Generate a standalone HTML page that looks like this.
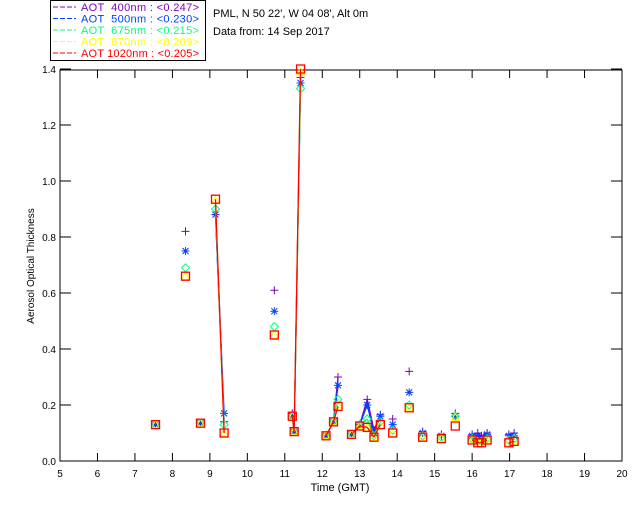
<!DOCTYPE html>
<html><head><meta charset="utf-8"><style>
body{margin:0;background:#fff;}
svg{display:block;font-family:"Liberation Sans",sans-serif;}
#legendItems text{white-space:pre;}
</style></head><body>
<svg id="chart" width="640" height="512" viewBox="0 0 640 512">
<rect x="0" y="0" width="640" height="512" fill="#fff"/>
<g>
<rect x="50.5" y="0.5" width="155" height="60" fill="none" stroke="#000"/>
<g id="legendItems" font-size="11"></g>
</g>
<text x="213" y="17" font-size="11">PML, N 50 22', W 04 08', Alt 0m</text>
<text x="213" y="35" font-size="11">Data from: 14 Sep 2017</text>
<g id="axes"></g>
<g id="series"></g>
<text x="340" y="491" font-size="11" text-anchor="middle">Time (GMT)</text>
<text x="0" y="0" font-size="10" text-anchor="middle" transform="translate(34,266) rotate(-90)">Aerosol Optical Thickness</text>
</svg>
<script>
const times=[7.55,8.35,8.75,9.15,9.38,10.72,11.2,11.25,11.42,12.1,12.3,12.42,12.78,13.0,13.2,13.38,13.55,13.88,14.32,14.68,15.18,15.55,16.0,16.15,16.25,16.4,16.98,17.12];
const aot400=[0.13,0.82,0.135,0.88,0.14,0.61,0.17,0.105,1.37,0.09,0.14,0.30,0.095,0.13,0.22,0.11,0.165,0.15,0.32,0.105,0.095,0.17,0.095,0.10,0.09,0.10,0.095,0.10];
const aot500=[0.13,0.75,0.135,0.88,0.17,0.535,0.16,0.105,1.35,0.09,0.14,0.27,0.095,0.13,0.20,0.10,0.16,0.13,0.245,0.10,0.09,0.16,0.09,0.09,0.085,0.095,0.09,0.09];
const aot675=[0.13,0.69,0.135,0.90,0.13,0.48,0.16,0.105,1.33,0.09,0.14,0.22,0.095,0.13,0.15,0.09,0.14,0.11,0.20,0.09,0.085,0.16,0.08,0.07,0.07,0.08,0.075,0.08];
const aot870=[0.13,0.66,0.135,0.93,0.10,0.45,0.16,0.105,1.39,0.09,0.14,0.20,0.095,0.125,0.12,0.085,0.13,0.10,0.19,0.085,0.08,0.155,0.075,0.065,0.065,0.075,0.065,0.07];
const aot1020=[0.13,0.66,0.135,0.935,0.10,0.45,0.16,0.105,1.40,0.09,0.14,0.195,0.095,0.125,0.12,0.085,0.13,0.10,0.19,0.085,0.08,0.125,0.075,0.065,0.065,0.075,0.065,0.07];
const legendLabels=["AOT  400nm : <0.247>","AOT  500nm : <0.230>","AOT  675nm : <0.215>","AOT  870nm : <0.209>","AOT 1020nm : <0.205>"];
const xTicks=[5,6,7,8,9,10,11,12,13,14,15,16,17,18,19,20];
const yTicks=[0,0.2,0.4,0.6,0.8,1.0,1.2,1.4];

const NS="http://www.w3.org/2000/svg";
const L=60,R=622,T=70,B=461;
const xs=v=>L+(v-5)/15*(R-L);
const ys=v=>B-v/1.4*(B-T+1);
function mk(tag,attrs,parent){const e=document.createElementNS(NS,tag);for(const k in attrs)e.setAttribute(k,attrs[k]);parent.appendChild(e);return e;}
const axes=document.getElementById('axes');
const frame=mk('rect',{x:L,y:T,width:R-L,height:B-T,fill:'none',stroke:'#000','stroke-width':1},axes);


xTicks.forEach(t=>{
 const x=xs(t);
 if(t>5&&t<20){
  const a=mk('line',{x1:x,x2:x,y1:B,y2:B-8,stroke:'#000'},axes);
  
  
  const b=mk('line',{x1:x,x2:x,y1:T,y2:T+8,stroke:'#000'},axes);
  
  
 }
 const tx=mk('text',{x:x,y:B+16,'font-size':10,'text-anchor':'middle'},axes);
 tx.textContent=String(t);
 
 
});
yTicks.forEach(t=>{
 const y=ys(t);
 const a=mk('line',{x1:L,x2:L+11,y1:y,y2:y,stroke:'#000'},axes);
 
 
 const b=mk('line',{x1:R,x2:R-11,y1:y,y2:y,stroke:'#000'},axes);
 
 
 const tx=mk('text',{x:L-4,y:y+4,'font-size':10,'text-anchor':'end'},axes);
 tx.textContent=t.toFixed(1);
 
 
});
const colors=['#7f00bf','#0040ff','#00ff80','#ffff00','#ff0000'];
const series=[aot400,aot500,aot675,aot870,aot1020];
const names=['aot-400','aot-500','aot-675','aot-870','aot-1020'];
const lg=document.getElementById('legendItems');
legendLabels.forEach((s,i)=>{
 const y=11+i*11.5;
 const ln=mk('line',{x1:53,x2:76,y1:y-4,y2:y-4,stroke:colors[i],'stroke-dasharray':'5,2'},lg);
 
 
 const tx=mk('text',{x:81,y:y,fill:colors[i],textLength:118,lengthAdjust:'spacing'},lg);
 tx.textContent=s;
 
 
});
const sg=document.getElementById('series');
series.forEach((vals,si)=>{
 const g=mk('g',{},sg);
 
 
 const c=colors[si];
 for(let i=1;i<times.length;i++){
  if(times[i]-times[i-1]<=0.3){
   const l=mk('line',{x1:xs(times[i-1]),y1:ys(vals[i-1]),x2:xs(times[i]),y2:ys(vals[i]),stroke:c,'stroke-width':1.3},g);
   
   
  }
 }
 times.forEach((t,i)=>{
  const x=xs(t),y=ys(vals[i]);let m;
  if(si===0) m=mk('path',{d:`M${x-4},${y}H${x+4}M${x},${y-4}V${y+4}`,stroke:c,fill:'none'},g);
  else if(si===1) m=mk('path',{d:`M${x-4},${y}H${x+4}M${x},${y-4}V${y+4}M${x-3},${y-3}L${x+3},${y+3}M${x-3},${y+3}L${x+3},${y-3}`,stroke:c,fill:'none'},g);
  else if(si===2) m=mk('path',{d:`M${x},${y-4}L${x+4},${y}L${x},${y+4}L${x-4},${y}Z`,stroke:c,fill:'none'},g);
  else if(si===3) m=mk('path',{d:`M${x},${y-4}L${x+4},${y+3}L${x-4},${y+3}Z`,stroke:c,fill:'none'},g);
  else m=mk('rect',{x:x-4,y:y-4,width:8,height:8,stroke:c,fill:'none','stroke-width':1.3},g);
  
  
 });
});
</script>
</body></html>
